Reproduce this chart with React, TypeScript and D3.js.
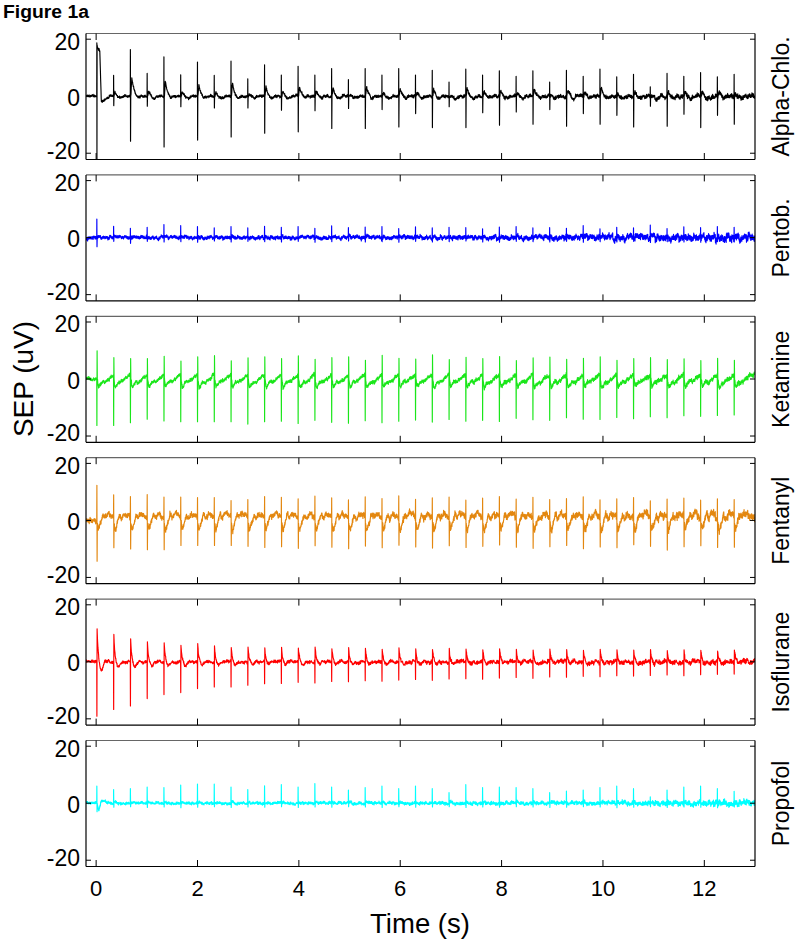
import React from 'react';
import * as d3 from 'd3';

// ---- Time base ----
const T_START = -0.2;
const T_END = 13;
const STIM_START = 0.012;
const STIM_PERIOD = 0.3309;
const N_STIM = 39;
const STIM_TIMES = d3.range(N_STIM).map((k) => STIM_START + k * STIM_PERIOD);

const X_TICKS = [0, 2, 4, 6, 8, 10, 12];
const Y_TICKS = [-20, 0, 20];

const PANEL_LABELS = ['Alpha-Chlo.', 'Pentob.', 'Ketamine', 'Fentanyl', 'Isoflurane', 'Propofol'];
const PANEL_KINDS = ['alpha', 'pentob', 'ketamine', 'fentanyl', 'iso', 'propofol'];
const PANEL_COLORS = ['#000000', '#0000ff', '#1ae61a', '#e3870f', '#ff0000', '#00ffff'];

// ---- Per-stimulus peak amplitudes (uV) ----
const ALPHA_POS = [18.7, 7.3, 16.4, 8, 13.8, 7.5, 12, 7.3, 12.3, 6.1, 11, 7.4, 10.5, 7.4, 9.7, 5.8, 9.7, 7.4, 9.7, 7.4, 9.1, 5, 9.5, 7.4, 8.9, 7, 8.9, 5, 9.1, 7, 9.5, 6.8, 7.7, 3.3, 8, 7, 8.3, 6.8, 7.7];
const ALPHA_NEG = [-24, -3.3, -15.8, -3.5, -17.8, -3.7, -15.4, -4.1, -14.3, -4.1, -13, -4.9, -12.5, -5.1, -11.3, -4.3, -11.3, -4.7, -10.8, -6.1, -11, -3.7, -11, -5.8, -10.2, -5.5, -9.8, -4.7, -10.5, -6.1, -9.8, -6.7, -10.8, -3.5, -10.5, -6.3, -11, -6.7, -9.8];

const PENTOB_POS = [6.5, 4, 3.3, 3.6, 4.6, 4.2, 3.9, 3.4, 3.9, 3.4, 4, 3.6, 3.9, 3.3, 4.1, 3.5, 3.7, 3.9, 3.2, 3.8, 3.4, 3.6, 3.5, 3.1, 3.7, 3.9, 3.4, 3.5, 3.3, 4.2, 3.1, 3.6, 3.4, 4.4, 3.2, 3.8, 3.5, 3.9, 3.6];
const PENTOB_NEG = [-3.2, -1.3, -2, -1.3, -1.5, -1.4, -1.6, -1.2, -1.5, -1.3, -1.4, -1.5, -1.3, -1.6, -1.4, -1.2, -1.5, -1.4, -1.6, -1.3, -1.5, -1.4, -1.2, -1.5, -1.6, -1.3, -1.4, -1.5, -1.3, -1.6, -1.4, -1.5, -1.3, -1.7, -1.4, -1.5, -1.6, -1.4, -1.5];

const KETAMINE_POS = [9.9, 7.5, 7.2, 7.2, 8, 6.3, 7.8, 8.2, 6.4, 7.4, 7.8, 7.2, 8.1, 6.9, 7.5, 7.8, 6.6, 8.3, 7.3, 7, 8.5, 6.8, 7.6, 7.2, 7.9, 6.5, 7.4, 7.7, 6.9, 7.3, 7.8, 6.6, 7.2, 7.5, 6.8, 7.1, 6.5, 7.3, 6.6];
const KETAMINE_NEG = [-16.3, -16.3, -15.3, -14.1, -14.7, -15, -15, -15, -15, -15.8, -15, -14.8, -15.6, -14.5, -15.2, -15.5, -14.6, -15.3, -14.8, -14.4, -15.1, -14.2, -14.8, -14.5, -14.9, -13.8, -14.3, -14.5, -13.6, -14.1, -14.2, -13.5, -13.9, -13.2, -13.6, -12.9, -13.1, -12.8, -12.6];

const FENTANYL_POS = [12.3, 9, 8.4, 9.1, 8.2, 8.2, 8, 8, 7, 7.3, 8.4, 8.1, 7.6, 8.5, 7.9, 7.2, 8.3, 7.7, 8.6, 7.4, 7.9, 8.2, 7.1, 7.8, 8.4, 7.5, 8.1, 7.3, 7.7, 8.3, 7.2, 7.6, 8, 6.9, 7.5, 7.8, 7.1, 7.6, 7.3];
const FENTANYL_NEG = [-14.3, -9.6, -10, -10.3, -10.3, -8.8, -8.8, -8.8, -8.8, -9.1, -9.5, -9.2, -9.8, -8.9, -9.4, -9.9, -9, -9.6, -8.7, -9.3, -9.7, -8.9, -9.5, -9.1, -8.6, -9.4, -9.8, -9.2, -8.8, -9.9, -9.3, -9.6, -8.5, -9.1, -10.4, -9.2, -8.9, -9.5, -9.4];

const ISO_POS = [11.6, 9.6, 8.1, 7, 6.7, 5.8, 6.4, 5.6, 5, 5.2, 4.9, 5.1, 4.8, 5.2, 4.6, 5, 4.7, 4.4, 4.9, 4.6, 4.3, 4.7, 4.5, 4.2, 4.6, 4.4, 4.1, 4.5, 4.3, 4, 4.4, 4.2, 4.1, 4.3, 3.9, 4.2, 4, 3.8, 4.1];
const ISO_NEG = [-19.1, -16.7, -15.5, -12.9, -11.5, -10.8, -9.4, -8.8, -8.8, -8.2, -7.7, -7.6, -7.2, -7.4, -6.9, -7, -6.6, -6.8, -6.4, -6.2, -6.5, -6, -5.9, -6.1, -5.7, -5.5, -5.8, -5.3, -5.4, -5.1, -5.2, -4.9, -5, -4.8, -4.6, -4.9, -4.5, -4.4, -4.3];

const PROPOFOL_POS = [6, 4.8, 5.1, 5.7, 5.5, 6.4, 6.7, 6.7, 5.7, 4.8, 6.1, 6.5, 5.7, 6.9, 5.7, 4.6, 5.5, 6, 5.1, 6, 5.1, 3.7, 6.5, 5.5, 5.7, 5.5, 5.1, 3.7, 4.3, 4.6, 5.5, 6, 5.1, 2.2, 4.6, 5.7, 6, 5.1, 4.2];
const PROPOFOL_NEG = [-3, -1.4, -1.2, -1.5, -1.3, -1.6, -1.4, -1.2, -1.5, -1.3, -1.4, -1.2, -1.5, -1.3, -1.4, -1.2, -1.3, -1.5, -1.2, -1.4, -1.3, -1.2, -1.5, -1.3, -1.4, -1.2, -1.3, -1.5, -1.4, -1.2, -1.3, -1.6, -1.4, -1.2, -1.5, -1.3, -1.4, -1.6, -1.3];

// background noise level per second (uV)
const ALPHA_NOISE = [0.5, 0.5, 0.55, 0.55, 0.6, 0.6, 0.65, 0.65, 0.7, 0.75, 0.8, 0.9, 1.0, 1.0];
const PENTOB_NOISE = [0.7, 0.7, 0.75, 0.75, 0.75, 0.8, 0.85, 0.9, 1.0, 1.15, 1.3, 1.45, 1.6, 1.6];
const KETAMINE_NOISE = [0.65, 0.65, 0.65, 0.65, 0.7, 0.7, 0.7, 0.75, 0.8, 0.8, 0.85, 0.85, 0.9, 0.9];
const FENTANYL_NOISE = [1.0, 1.0, 1.0, 1.0, 1.05, 1.1, 1.15, 1.15, 1.2, 1.25, 1.3, 1.4, 1.5, 1.5];
const ISO_NOISE = [0.6, 0.6, 0.6, 0.65, 0.65, 0.7, 0.75, 0.8, 0.8, 0.85, 0.9, 0.95, 1.0, 1.0];
const PROPOFOL_NOISE = [0.5, 0.5, 0.5, 0.5, 0.55, 0.55, 0.6, 0.65, 0.65, 0.7, 0.8, 1.0, 1.15, 1.15];

// fixed texture template for the background EEG
const NOISE_TEMPLATE = [0.3, -0.5, 0.8, -0.2, -0.9, 0.4, 0.1, -0.6, 0.7, -0.3, 0.5, -0.8, 0.2, 0.9, -0.4, -0.1, 0.6, -0.7, 0.3, -0.2, 0.8, -0.5, -0.9, 0.4, 0.2, -0.3, 0.7, -0.6, 0.1, 0.5, -0.8, 0.3, -0.1, 0.6, -0.4, 0.9, -0.7, 0.2, -0.5, 0.4, 0.8, -0.2, -0.6, 0.5, -0.3, 0.1, 0.7, -0.9, 0.3, -0.4];

const PANEL_POS = [ALPHA_POS, PENTOB_POS, KETAMINE_POS, FENTANYL_POS, ISO_POS, PROPOFOL_POS];
const PANEL_NEG = [ALPHA_NEG, PENTOB_NEG, KETAMINE_NEG, FENTANYL_NEG, ISO_NEG, PROPOFOL_NEG];
const PANEL_NOISE = [ALPHA_NOISE, PENTOB_NOISE, KETAMINE_NOISE, FENTANYL_NOISE, ISO_NOISE, PROPOFOL_NOISE];

// ---- waveform shape templates ----
const gauss = (t: number, mu: number, s: number) => Math.exp(-0.5 * ((t - mu) / s) ** 2);
const alphaFirst = d3.scaleLinear().domain([0.012, 0.06, 0.09, 0.25]).range([17.5, 16, -2, 0]).clamp(true);
const fentShape = d3
  .scaleLinear()
  .domain([0.011, 0.035, 0.08, 0.12, 0.16, 0.22, 0.28, 0.331])
  .range([-1, -3.5, -0.5, 2, 0.8, 2.5, 1.8, 1])
  .clamp(true);

function slowVal(kind: string, k: number, dt: number, pos: number, neg: number): number {
  if (k < 0) return 0;
  switch (kind) {
    case 'alpha': {
      if (k === 0) return alphaFirst(dt);
      const b = Math.max(0, pos - 5) * 0.6;
      const v = dt < 0.03 ? (b * (dt - 0.012)) / 0.018 : b * Math.exp(-(dt - 0.03) / 0.045);
      return v - 0.8 * gauss(dt, 0.13, 0.04);
    }
    case 'pentob':
      return 0.3 * gauss(dt, 0.03, 0.02);
    case 'ketamine': {
      const d = Math.min(dt, STIM_PERIOD);
      if (d < 0.035) return (-3 * (d - 0.011)) / 0.024;
      return -3 + (4.5 * (d - 0.035)) / (STIM_PERIOD - 0.035) + 0.8 * gauss(d, 0.1, 0.03);
    }
    case 'fentanyl':
      return fentShape(dt);
    case 'iso':
      return pos * Math.exp(-Math.max(0, dt - 0.007) / 0.02) + 0.12 * neg * gauss(dt, 0.09, 0.03) * (k === 0 ? 1.4 : 1);
    case 'propofol':
      if (k === 0) return -2.5 * gauss(dt, 0.04, 0.02) + 1 * gauss(dt, 0.12, 0.04);
      return 0.3 * gauss(dt, 0.03, 0.02);
  }
  return 0;
}

function fastPoints(kind: string, k: number, pos: number, neg: number): [number, number][] {
  const prevEnd = k > 0 ? slowVal(kind, k - 1, STIM_PERIOD, 0, 0) : 0;
  switch (kind) {
    case 'alpha':
      if (k === 0) return [[0, 0], [0.002, pos], [0.004, neg], [0.007, 18], [0.011, 17.5]];
      return [[0, 0], [0.002, pos], [0.005, neg], [0.009, 0]];
    case 'pentob':
      return [[0, 0], [0.002, pos], [0.005, neg], [0.009, 0]];
    case 'ketamine':
      return [[0, prevEnd], [0.003, neg], [0.007, pos], [0.011, 0]];
    case 'fentanyl':
      return [[0, prevEnd], [0.003, pos], [0.007, neg], [0.011, -1]];
    case 'iso':
      return [[0, 0], [0.003, neg], [0.007, pos], [0.01, pos * 0.86]];
    case 'propofol':
      return [[0, 0], [0.002, pos], [0.006, neg], [0.01, 0]];
  }
  return [];
}

function buildTrace(p: number): [number, number][] {
  const kind = PANEL_KINDS[p];
  const pos = PANEL_POS[p];
  const neg = PANEL_NEG[p];
  const lev = PANEL_NOISE[p];
  const L = NOISE_TEMPLATE.length;
  const off = p * 17 + 5;
  const pts: [number, number][] = [];
  const step = 0.004;
  const n = Math.round((T_END - T_START) / step);
  for (let i = 0; i <= n; i++) {
    const t = T_START + i * step;
    let k = Math.floor((t - STIM_START) / STIM_PERIOD);
    if (k >= N_STIM) k = N_STIM - 1;
    const dt = k >= 0 ? t - STIM_TIMES[k] : 0;
    if (k >= 0 && dt < 0.012) continue;
    const base = k >= 0 ? slowVal(kind, k, dt, pos[k], neg[k]) : 0;
    const level = lev[Math.max(0, Math.min(lev.length - 1, Math.floor(t)))];
    const fast = NOISE_TEMPLATE[(i + off) % L] * 0.6 + NOISE_TEMPLATE[(i * 7 + off * 3) % L] * 0.4;
    const wander =
      NOISE_TEMPLATE[(Math.floor(i / 9) + off) % L] * 0.6 + NOISE_TEMPLATE[(Math.floor(i / 23) * 3 + off) % L] * 0.5;
    pts.push([t, base + level * (fast + wander * 0.8)]);
  }
  STIM_TIMES.forEach((tk, k) => {
    fastPoints(kind, k, pos[k], neg[k]).forEach(([o, v]) => pts.push([tk + o, v]));
  });
  pts.sort((a, b) => a[0] - b[0]);
  return pts;
}

const FONT = "'Liberation Sans', Arial, Helvetica, sans-serif";

export default function App() {
  const left = 86;
  const right = 755;
  const top0 = 33.5;
  const pStep = 141.4;
  const pH = 126;
  const x = d3.scaleLinear().domain([T_START, T_END]).range([left, right]);
  const traces = React.useMemo(() => PANEL_LABELS.map((_, p) => buildTrace(p)), []);

  return (
    <svg width={800} height={946} style={{ position: 'absolute', left: 0, top: 0, background: '#fff' }}>
      <rect x={0} y={0} width={800} height={946} fill="#fff" />
      <text x={3} y={17.5} fontFamily={FONT} fontWeight="bold" fontSize={18} textLength={86} lengthAdjust="spacingAndGlyphs">
        Figure 1a
      </text>
      {PANEL_LABELS.map((label, p) => {
        const top = top0 + p * pStep;
        const bottom = top + pH;
        const y = d3.scaleLinear().domain([-22.2, 22]).range([bottom, top]);
        const line = d3
          .line<[number, number]>()
          .x((d) => x(d[0]))
          .y((d) => y(d[1]));
        const clipId = `clip-${p}`;
        return (
          <g key={label}>
            <defs>
              <clipPath id={clipId}>
                <rect x={left} y={top} width={right - left} height={pH} />
              </clipPath>
            </defs>
            <path
              d={line(traces[p]) || ''}
              fill="none"
              stroke={PANEL_COLORS[p]}
              strokeWidth={1.15}
              strokeLinejoin="round"
              clipPath={`url(#${clipId})`}
            />
            {/* frame */}
            <line x1={left} x2={right} y1={top} y2={top} stroke="#666" strokeWidth={1.2} />
            <line x1={left} x2={right} y1={bottom} y2={bottom} stroke="#000" strokeWidth={1.2} />
            <line x1={left} x2={left} y1={top} y2={bottom} stroke="#000" strokeWidth={1.2} />
            <line x1={right} x2={right} y1={top} y2={bottom} stroke="#000" strokeWidth={1.2} />
            {X_TICKS.map((t) => (
              <g key={t}>
                <line x1={x(t)} x2={x(t)} y1={bottom} y2={bottom - 6.5} stroke="#000" />
                <line x1={x(t)} x2={x(t)} y1={top} y2={top + 6.5} stroke="#000" />
              </g>
            ))}
            {Y_TICKS.map((v) => {
              const ty = y(v);
              const base = Math.min(Math.max(ty + 9.5, top + 16), bottom - 1);
              return (
                <g key={v}>
                  <line x1={left} x2={left + 5} y1={ty} y2={ty} stroke="#000" />
                  <line x1={right} x2={right - 5} y1={ty} y2={ty} stroke="#000" />
                  <text x={80} y={base} textAnchor="end" fontFamily={FONT} fontSize={23}>
                    {v}
                  </text>
                </g>
              );
            })}
            <text
              transform={`translate(789,${(top + bottom) / 2}) rotate(-90)`}
              textAnchor="middle"
              fontFamily={FONT}
              fontSize={23}
            >
              {label}
            </text>
            {p === PANEL_LABELS.length - 1 &&
              X_TICKS.map((t) => (
                <text key={t} x={x(t)} y={896} textAnchor="middle" fontFamily={FONT} fontSize={22}>
                  {t}
                </text>
              ))}
          </g>
        );
      })}
      <text transform="translate(33,379) rotate(-90)" textAnchor="middle" fontFamily={FONT} fontSize={28}>
        SEP (uV)
      </text>
      <text x={420} y={933} textAnchor="middle" fontFamily={FONT} fontSize={27.5}>
        Time (s)
      </text>
    </svg>
  );
}
